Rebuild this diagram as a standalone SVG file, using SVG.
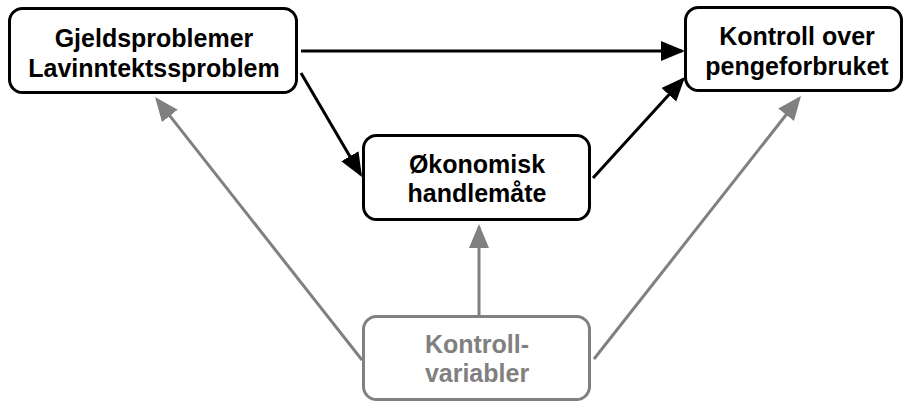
<svg xmlns="http://www.w3.org/2000/svg" width="904" height="403" viewBox="0 0 904 403">
<defs>
<style>
.box{fill:#fff;stroke:#000;stroke-width:3}
.gbox{fill:#fff;stroke:#808080;stroke-width:3}
.t{font-family:"Liberation Sans",Arial,sans-serif;font-weight:bold;font-size:25px;text-anchor:middle;fill:#000}
.gt{fill:#808080}
.c{stroke:#000;stroke-width:3;fill:none;marker-end:url(#ab)}
.g{stroke:#808080;stroke-width:3;fill:none;marker-end:url(#ag)}
</style>
<marker id="ab" markerUnits="userSpaceOnUse" markerWidth="26" markerHeight="22" refX="21" refY="10" orient="auto">
<path d="M0,0 L24,10 L0,20 z" fill="#000"/>
</marker>
<marker id="ag" markerUnits="userSpaceOnUse" markerWidth="26" markerHeight="22" refX="21" refY="10" orient="auto">
<path d="M0,0 L24,10 L0,20 z" fill="#808080"/>
</marker>
</defs>
<rect width="904" height="403" fill="#fff"/>
<g id="connectors">
<line class="c" x1="301" y1="51" x2="682" y2="51"/>
<line class="c" x1="301" y1="73" x2="360.5" y2="174.4"/>
<line class="c" x1="593" y1="178" x2="683" y2="79.2"/>
<line class="g" x1="362" y1="360" x2="156.9" y2="99.4"/>
<line class="g" x1="594" y1="359" x2="799.1" y2="98.3"/>
<line class="g" x1="479" y1="316" x2="479" y2="227"/>
</g>
<g id="n1">
<rect class="box" x="9.5" y="8.5" width="287" height="84" rx="13"/>
<text class="t" x="154" y="47">Gjeldsproblemer</text>
<text class="t" x="154" y="77">Lavinntektssproblem</text>
</g>
<g id="n2">
<rect class="box" x="685.5" y="7.5" width="216" height="83" rx="13"/>
<text class="t" x="797" y="45">Kontroll over</text>
<text class="t" x="797" y="75">pengeforbruket</text>
</g>
<g id="n3">
<rect class="box" x="363.5" y="135.5" width="226" height="84" rx="13"/>
<text class="t" x="477" y="173">Økonomisk</text>
<text class="t" x="477" y="202">handlemåte</text>
</g>
<g id="n4">
<rect class="gbox" x="363.5" y="316.5" width="226" height="83" rx="13"/>
<text class="t gt" x="477" y="353">Kontroll-</text>
<text class="t gt" x="477" y="382">variabler</text>
</g>
</svg>
